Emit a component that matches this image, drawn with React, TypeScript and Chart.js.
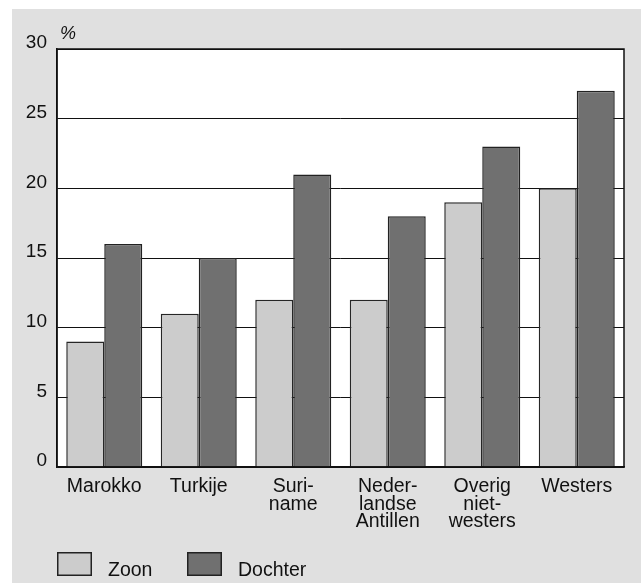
import React, { useEffect, useRef } from "react";
import { Chart, registerables } from "chart.js";

Chart.register(...registerables);

const categories: string[][] = [
  ["Marokko"],
  ["Turkije"],
  ["Suri-", "name"],
  ["Neder-", "landse", "Antillen"],
  ["Overig", "niet-", "westers"],
  ["Westers"],
];
const zoonValues = [9, 11, 12, 12, 19, 20];
const dochterValues = [16, 15, 21, 18, 23, 27];
const yTicks = [0, 5, 10, 15, 20, 25, 30];
const seriesNames = ["Zoon", "Dochter"];
const seriesColors = ["#cccccc", "#707070"];
const unitLabel = "%";

const FONT = '"Liberation Sans", Arial, Helvetica, sans-serif';
const INK = "#111111";

const framePlugin = {
  id: "frame",
  beforeDraw(chart: any) {
    const { ctx, chartArea: a } = chart;
    ctx.save();
    ctx.fillStyle = "#ffffff";
    ctx.fillRect(a.left, a.top, a.right - a.left, a.bottom - a.top);
    ctx.restore();
  },
  afterDatasetsDraw(chart: any) {
    const { ctx, chartArea: a } = chart;
    ctx.save();
    ctx.strokeStyle = INK;
    ctx.lineWidth = 1.5;
    ctx.strokeRect(a.left, a.top, a.right - a.left, a.bottom - a.top);
    ctx.restore();
  },
  afterDraw(chart: any) {
    const { ctx, chartArea: a } = chart;
    ctx.save();
    ctx.fillStyle = INK;
    ctx.font = `italic 18px ${FONT}`;
    ctx.textBaseline = "alphabetic";
    ctx.textAlign = "left";
    ctx.fillText(unitLabel, a.left + 3, a.top - 10);

    // legend
    const ds = chart.data.datasets;
    const boxY = 552;
    const positions = [57, 187];
    ds.forEach((d: any, i: number) => {
      const x = positions[i];
      ctx.fillStyle = d.backgroundColor;
      ctx.fillRect(x, boxY, 35, 24);
      ctx.strokeStyle = "#222222";
      ctx.lineWidth = 1.5;
      ctx.strokeRect(x + 0.75, boxY + 0.75, 33.5, 22.5);
      ctx.fillStyle = INK;
      ctx.font = `19.5px ${FONT}`;
      ctx.fillText(d.label, x + 51, 576);
    });
    ctx.restore();
  },
};

export default function App() {
  const ref = useRef<HTMLCanvasElement | null>(null);

  useEffect(() => {
    document.body.style.margin = "0";
    const canvas = ref.current;
    if (!canvas) return;
    const chart = new Chart(canvas, {
      type: "bar",
      data: {
        labels: categories as any,
        datasets: [
          {
            label: seriesNames[0],
            data: zoonValues,
            backgroundColor: seriesColors[0],
            borderColor: "#262626",
            borderWidth: 1.5,
            barPercentage: 1,
            categoryPercentage: 0.804,
          },
          {
            label: seriesNames[1],
            data: dochterValues,
            backgroundColor: seriesColors[1],
            borderColor: "#222222",
            borderWidth: 1.5,
            barPercentage: 1,
            categoryPercentage: 0.804,
          },
        ],
      },
      options: {
        animation: false,
        responsive: false,
        maintainAspectRatio: false,
        devicePixelRatio: 1,
        layout: { padding: { left: 0, top: 49, right: 17, bottom: 0 } },
        plugins: {
          legend: { display: false },
          tooltip: { enabled: false },
          title: { display: false },
        },
        scales: {
          x: {
            grid: { display: false, drawTicks: false },
            border: { display: true, color: INK, width: 1.5 },
            ticks: {
              font: { family: FONT, size: 19.5, lineHeight: 0.9 },
              color: INK,
              padding: 11,
              maxRotation: 0,
              autoSkip: false,
            },
            afterFit: (s: any) => {
              s.height = 116;
            },
          },
          y: {
            min: 0,
            max: 30,
            afterBuildTicks: (s: any) => {
              s.ticks = yTicks.map((v) => ({ value: v }));
            },
            grid: { color: INK, lineWidth: 1, drawTicks: false },
            border: { display: true, color: INK, width: 1.5 },
            ticks: {
              font: { family: FONT, size: 19 },
              color: INK,
              padding: 10,
              labelOffset: -6,
            },
            afterFit: (s: any) => {
              s.width = 57;
            },
          },
        },
      },
      plugins: [framePlugin],
    } as any);
    return () => chart.destroy();
  }, []);

  return (
    <div style={{ position: "relative", width: 641, height: 583, background: "#ffffff", overflow: "hidden" }}>
      <div style={{ position: "absolute", left: 12, top: 9, right: 0, bottom: 0, background: "#e0e0e0" }} />
      <canvas
        ref={ref}
        width={641}
        height={583}
        style={{ position: "absolute", left: 0, top: 0, width: 641, height: 583, display: "block" }}
      />
    </div>
  );
}
